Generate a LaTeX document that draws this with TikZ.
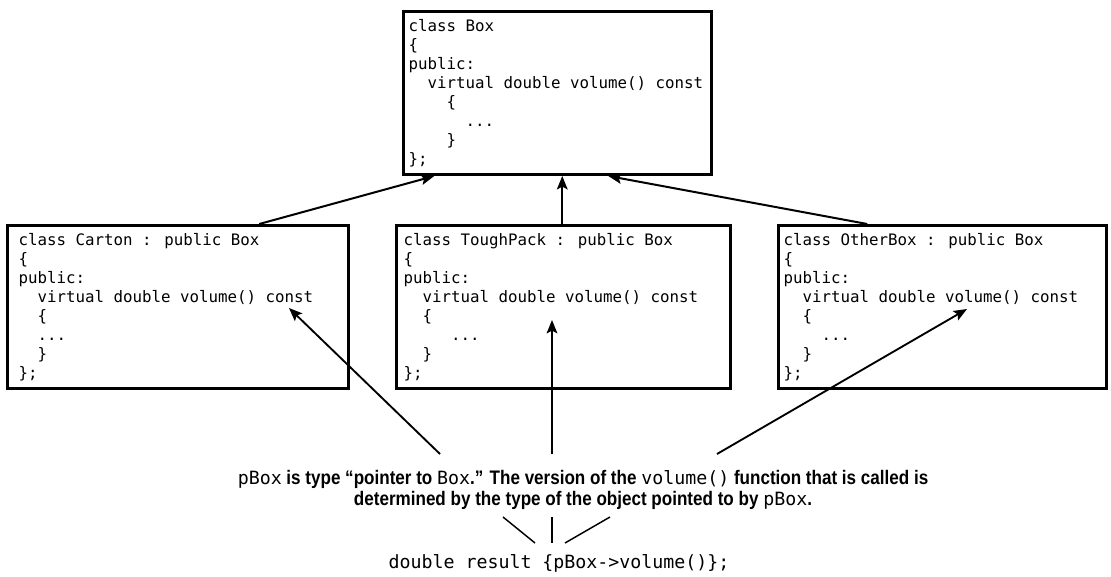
\documentclass[tikz,border=0pt]{standalone}
\usepackage{fontspec}
\setmainfont{Liberation Sans}
\newfontfamily\codefont{DejaVu Sans Mono}
\newfontfamily\prosefont[FakeStretch=0.87]{Liberation Sans}
\usetikzlibrary{arrows.meta}
\newcommand{\ind}[1]{\hspace*{#1}}
\newcommand{\cd}[1]{{\mdseries\codefont\fontsize{13.7pt}{16pt}\selectfont #1}}
\newcommand{\fixsp}{\spaceskip=0pt\xspaceskip=0pt\relax}
\begin{document}
\begin{tikzpicture}[x=0.75pt,y=-0.75pt,
  cbox/.style={draw, line width=1.9pt, anchor=north west, align=left,
    inner ysep=0pt, minimum height=122.6pt,
    font=\codefont\fontsize{11.84pt}{14.25pt}\selectfont},
  inh/.style={line width=1.5pt, -{Stealth[length=10pt,width=8pt,inset=2pt]}},
  ptr/.style={line width=1.4pt, -{Stealth[length=10pt,width=8pt,inset=2pt]}},
  tick/.style={line width=1.1pt},
  prose/.style={align=center, font=\prosefont\bfseries\fontsize{14.7pt}{16pt}\selectfont, inner sep=0pt},
  codeline/.style={font=\codefont\fontsize{13.7pt}{16pt}\selectfont, inner sep=0pt}
]
\useasboundingbox (0,0) rectangle (1111,576);

\node[cbox, inner xsep=4pt, text width=223pt] (top) at (402,10) {\fixsp
class Box\\
\{\\
public:\\
\ind{14.26pt}virtual double volume() const\\
\ind{28.52pt}\{\\
\ind{42.78pt}...\\
\ind{28.52pt}\}\\
\};};

\node[cbox, inner xsep=8.5pt, text width=238.75pt] (carton) at (6,224) {\fixsp
class Carton : public Box\\
\{\\
public:\\
\ind{14.26pt}virtual double volume() const\\
\ind{14.26pt}\{\\
\ind{14.26pt}...\\
\ind{14.26pt}\}\\
\};};

\node[cbox, inner xsep=5.5pt, text width=239.5pt] (tough) at (395,224) {\fixsp
class ToughPack : public Box\\
\{\\
public:\\
\ind{14.26pt}virtual double volume() const\\
\ind{14.26pt}\{\\
\ind{35.65pt}...\\
\ind{14.26pt}\}\\
\};};

\node[cbox, inner xsep=4pt, text width=238pt] (other) at (777,224) {\fixsp
class OtherBox : public Box\\
\{\\
public:\\
\ind{14.26pt}virtual double volume() const\\
\ind{14.26pt}\{\\
\ind{28.52pt}...\\
\ind{14.26pt}\}\\
\};};

% inheritance arrows
\draw[inh] ([xshift=61.1pt]carton.north) -- ([xshift=-92.25pt]top.south);
\draw[inh] ([xshift=-0.75pt]tough.north) -- ([xshift=-0.75pt]tough.north |- top.south);
\draw[inh] ([xshift=-56.25pt]other.north) -- ([xshift=38.25pt]top.south);

% description text
\node[prose] (desc) at (583,490) {\fixsp
\cd{pBox} is type “pointer to \cd{Box}.” The version of the \cd{volume()} function that is called is\\
determined by the type of the object pointed to by \cd{pBox}.};

\node[codeline] (call) at (559,563) {double result \{pBox->volume()\};};

% pointer arrows
\coordinate (s1) at (440,454);
\coordinate (s2) at (552,454);
\coordinate (s3) at (717,454);
\coordinate (t1) at (289,308);
\coordinate (t2) at (552,320);
\coordinate (t3) at (967,309);
\draw[ptr] (s1) -- (t1);
\draw[ptr] (s2) -- (t2);
\draw[ptr] (s3) -- (t3);

% short ticks between description and call
\coordinate (u1) at (503,517);
\coordinate (u2) at (552,517);
\coordinate (u3) at (610,517);
\coordinate (v1) at (535,543);
\coordinate (v2) at (552,543);
\coordinate (v3) at (565,543);
\draw[tick] (u1) -- (v1);
\draw[tick] (u2) -- (v2);
\draw[tick] (u3) -- (v3);
\end{tikzpicture}
\end{document}
